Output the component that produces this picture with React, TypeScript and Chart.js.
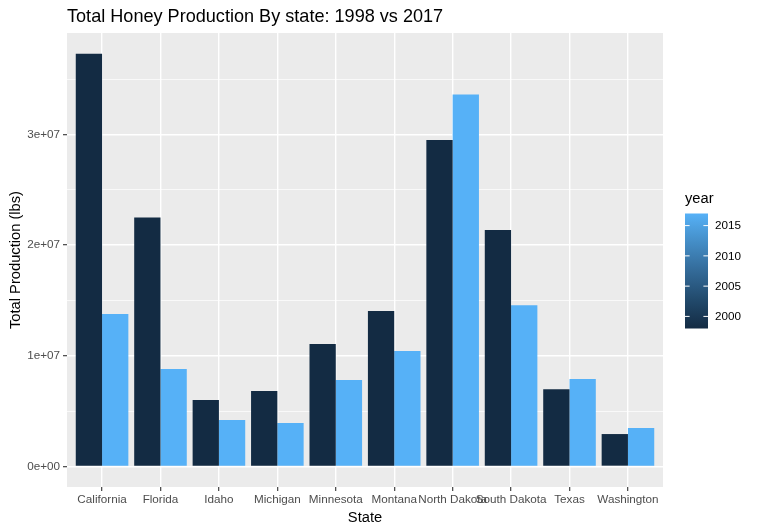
import React, { useEffect, useRef } from 'react';
import { Chart, registerables } from 'chart.js';

Chart.register(...registerables);

const states = ['California', 'Florida', 'Idaho', 'Michigan', 'Minnesota', 'Montana', 'North Dakota', 'South Dakota', 'Texas', 'Washington'];
const prod1998 = [37.3e6, 22.5e6, 5.99e6, 6.8e6, 11.05e6, 14.03e6, 29.49e6, 21.35e6, 6.98e6, 2.92e6];
const prod2017 = [13.76e6, 8.79e6, 4.18e6, 3.91e6, 7.8e6, 10.42e6, 33.6e6, 14.57e6, 7.89e6, 3.46e6];
const years = [1998, 2017];
const legendYears = [2000, 2005, 2010, 2015];
const yTickValues = [0, 5e6, 1e7, 1.5e7, 2e7, 2.5e7, 3e7, 3.5e7];
const yTickLabels: Record<number, string> = { 0: '0e+00', 10000000: '1e+07', 20000000: '2e+07', 30000000: '3e+07' };
const titleText = 'Total Honey Production By state: 1998 vs 2017';

const FONT = '"Liberation Sans", Arial, sans-serif';
// ggplot default gradient (Lab-space approximations)
const gradStops: [number, string][] = [
  [0, '#132B43'],
  [0.25, '#224A6C'],
  [0.5, '#336A98'],
  [0.75, '#448DC6'],
  [1, '#56B1F7'],
];

function hexToRgb(h: string) {
  return [parseInt(h.slice(1, 3), 16), parseInt(h.slice(3, 5), 16), parseInt(h.slice(5, 7), 16)];
}
function colorAt(t: number) {
  for (let i = 0; i < gradStops.length - 1; i++) {
    const [t0, c0] = gradStops[i];
    const [t1, c1] = gradStops[i + 1];
    if (t >= t0 && t <= t1) {
      const f = (t - t0) / (t1 - t0);
      const a = hexToRgb(c0), b = hexToRgb(c1);
      const c = a.map((v, k) => Math.round(v + (b[k] - v) * f));
      return `rgb(${c[0]},${c[1]},${c[2]})`;
    }
  }
  return gradStops[gradStops.length - 1][1];
}
const yearMin = Math.min(...years);
const yearMax = Math.max(...years);
const yearColor = (y: number) => colorAt((y - yearMin) / (yearMax - yearMin));

export default function App() {
  const ref = useRef<HTMLCanvasElement | null>(null);

  useEffect(() => {
    document.body.style.margin = '0';
    const canvas = ref.current;
    if (!canvas) return;
    const maxVal = Math.max(...prod1998, ...prod2017);

    const bgPlugin = {
      id: 'ggbg',
      beforeDraw(chart: any) {
        const { ctx, chartArea } = chart;
        ctx.save();
        ctx.fillStyle = '#FFFFFF';
        ctx.fillRect(0, 0, chart.width, chart.height);
        ctx.fillStyle = '#EBEBEB';
        ctx.fillRect(chartArea.left, chartArea.top, chartArea.right - chartArea.left, chartArea.bottom - chartArea.top);
        ctx.restore();
      },
      afterDraw(chart: any) {
        const { ctx } = chart;
        ctx.save();
        // title
        ctx.fillStyle = '#000000';
        ctx.font = `18.1px ${FONT}`;
        ctx.textBaseline = 'alphabetic';
        ctx.textAlign = 'left';
        ctx.fillText(titleText, chart.chartArea.left, 21.5);
        // colorbar legend
        const barX = 685, barW = 23, barTop = 213.5, barBot = 328.5;
        const g = ctx.createLinearGradient(0, barBot, 0, barTop);
        gradStops.forEach(([t, c]) => g.addColorStop(t, c));
        ctx.fillStyle = g;
        ctx.fillRect(barX, barTop, barW, barBot - barTop);
        ctx.font = `14.7px ${FONT}`;
        ctx.fillStyle = '#000000';
        ctx.fillText('year', 685, 203);
        ctx.font = `11.7px ${FONT}`;
        ctx.textBaseline = 'middle';
        legendYears.forEach((y) => {
          const py = barBot - ((y - yearMin) / (yearMax - yearMin)) * (barBot - barTop);
          ctx.strokeStyle = '#FFFFFF';
          ctx.lineWidth = 1;
          ctx.beginPath();
          ctx.moveTo(barX, py);
          ctx.lineTo(barX + 4.6, py);
          ctx.moveTo(barX + barW - 4.6, py);
          ctx.lineTo(barX + barW, py);
          ctx.stroke();
          ctx.fillStyle = '#000000';
          ctx.fillText(String(y), 715, py + 0.5);
        });
        ctx.restore();
      },
    };

    const chart = new Chart(canvas, {
      type: 'bar',
      data: {
        datasets: [
          {
            label: String(years[0]),
            data: prod1998.map((v, i) => ({ x: i, y: v })),
            backgroundColor: yearColor(years[0]),
            borderWidth: 0,
          },
          {
            label: String(years[1]),
            data: prod2017.map((v, i) => ({ x: i, y: v })),
            backgroundColor: yearColor(years[1]),
            borderWidth: 0,
          },
        ],
      },
      options: {
        responsive: false,
        animation: false,
        events: [],
        layout: { padding: { left: 0, right: 95, top: 33, bottom: 0 } },
        datasets: { bar: { categoryPercentage: 0.9, barPercentage: 1, inflateAmount: 0 } },
        plugins: {
          legend: { display: false },
          tooltip: { enabled: false },
          title: { display: false },
        },
        scales: {
          x: {
            type: 'linear',
            min: -0.6,
            max: states.length - 1 + 0.6,
            offset: false,
            afterBuildTicks: (scale: any) => {
              scale.ticks = states.map((_, i) => ({ value: i }));
            },
            afterFit: (scale: any) => {
              scale.height = 45;
            },
            ticks: {
              autoSkip: false,
              maxRotation: 0,
              minRotation: 0,
              padding: 1.5,
              color: '#4D4D4D',
              font: { family: FONT, size: 11.7 },
              callback: (v: any) => states[v as number] ?? '',
            },
            grid: {
              offset: false,
              color: '#FFFFFF',
              lineWidth: 1.4,
              drawTicks: true,
              tickLength: 4,
              tickColor: '#333333',
              tickWidth: 1.1,
            },
            border: { display: false },
            title: {
              display: true,
              text: 'State',
              color: '#000000',
              font: { family: FONT, size: 14.7 },
              padding: { top: 0, bottom: 5.5 },
            },
          },
          y: {
            type: 'linear',
            min: -0.05 * maxVal,
            max: 1.05 * maxVal,
            afterBuildTicks: (scale: any) => {
              scale.ticks = yTickValues.map((v) => ({ value: v }));
            },
            afterFit: (scale: any) => {
              scale.width = 67;
            },
            ticks: {
              padding: 3,
              color: '#4D4D4D',
              font: { family: FONT, size: 11.7 },
              callback: (v: any) => yTickLabels[v as number] ?? '',
            },
            grid: {
              color: '#FFFFFF',
              lineWidth: (c: any) => (yTickLabels[c.tick?.value] !== undefined ? 1.4 : 0.7),
              drawTicks: true,
              tickLength: 4,
              tickColor: (c: any) => (yTickLabels[c.tick?.value] !== undefined ? '#333333' : 'rgba(0,0,0,0)'),
              tickWidth: 1.1,
            },
            border: { display: false },
            title: {
              display: true,
              text: 'Total Production (lbs)',
              color: '#000000',
              font: { family: FONT, size: 14.7 },
              padding: { top: 7, bottom: 0 },
            },
          },
        },
      } as any,
      plugins: [bgPlugin],
    });

    return () => chart.destroy();
  }, []);

  return (
    <div style={{ width: 758, height: 532 }}>
      <canvas ref={ref} width={758} height={532} style={{ display: 'block' }} />
    </div>
  );
}
